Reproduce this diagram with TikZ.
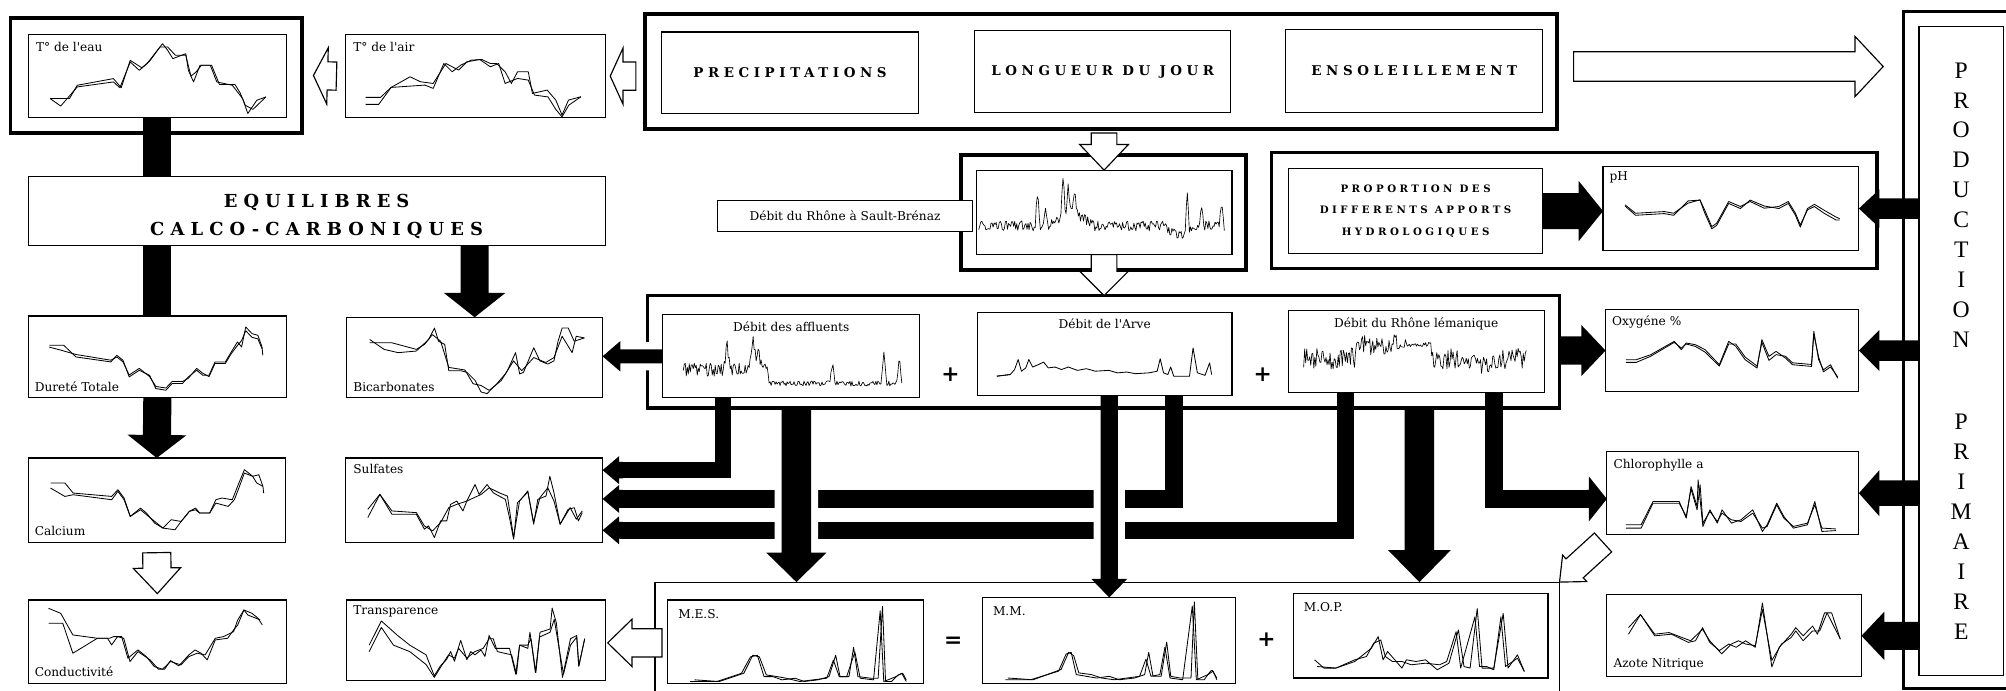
\documentclass[tikz,border=0pt]{standalone}
\usepackage{fontspec}
\usetikzlibrary{calc}
\newfontfamily\labfont{DejaVu Serif}
\newfontfamily\headfont[LetterSpace=34]{DejaVu Serif}
\newfontfamily\prodfont{Liberation Serif}
\pgfdeclarelayer{bg}\pgfdeclarelayer{lA}\pgfdeclarelayer{lB}\pgfdeclarelayer{lC}\pgfdeclarelayer{lD}
\pgfsetlayers{bg,lA,lB,lC,lD,main}
\pgfmathdeclarefunction{tri}{3}{\begingroup\pgfmathparse{max(0,1-abs(#1-#2)/#3)}\pgfmathsmuggle\pgfmathresult\endgroup}
\tikzset{
 box/.style={draw,line width=0.9pt,inner sep=0pt,outer sep=0pt},
 grp/.style={draw,line width=2.7pt,inner sep=0pt,outer sep=0pt},
 tbox/.style={box,fill=white},
 cl/.style={line width=0.65pt,line join=round},
 lab/.style={font=\labfont\fontsize{9.5}{11}\selectfont,inner sep=0pt},
 hd/.style={font=\headfont\bfseries\fontsize{10.5}{12}\selectfont,inner sep=0pt},
 pr/.style={font=\prodfont\fontsize{18.5}{18.5}\selectfont,inner sep=0pt},
 sgn/.style={font=\labfont\bfseries\fontsize{17}{17}\selectfont,inner sep=0pt},
 hollow/.style={draw=black,fill=white,line width=0.9pt,line join=miter},
 blk/.style={fill=black},
 blkgap/.style={fill=black,preaction={draw=white,line width=11pt}},
 thickl/.style={draw=black,line width=#1,line cap=butt,line join=miter},
}
\newcommand\mkbox[6][box]{\node[#1,minimum width={(#5-#3)*1pt},minimum height={(#6-#4)*1pt}] (#2) at ({(#3+#5)/2},{(#4+#6)/2}) {};}
\newcommand\chartbox[7]{\mkbox{#1}{#2}{#3}{#4}{#5}
 \begin{scope}[shift={(#1.north west)},xscale={(#4-#2)/100},yscale={(#5-#3)/100}]
 \draw[cl] plot coordinates {#6};
 \draw[cl] plot coordinates {#7};
 \end{scope}}
\newcommand\barrow[6]{%
 \coordinate (ba-a) at #2;
 \coordinate (ba-b) at #3;
 \coordinate (ba-c) at ($(ba-b)!#6pt!(ba-a)$);
 \path[#1] ($(ba-a)!#4pt!90:(ba-b)$) -- ($(ba-c)!#4pt!90:(ba-b)$) -- ($(ba-c)!#5pt!90:(ba-b)$) -- (ba-b) -- ($(ba-c)!#5pt!-90:(ba-b)$) -- ($(ba-c)!#4pt!-90:(ba-b)$) -- ($(ba-a)!#4pt!-90:(ba-b)$) -- cycle;}
\newcommand\bbar[4]{% style, from, to, half width
 \coordinate (bb-a) at #2;
 \coordinate (bb-b) at #3;
 \path[#1] ($(bb-a)!#4pt!90:(bb-b)$) -- ($(bb-b)!#4pt!-90:(bb-a)$) -- ($(bb-b)!#4pt!90:(bb-a)$) -- ($(bb-a)!#4pt!-90:(bb-b)$) -- cycle;}
\begin{document}
\begin{tikzpicture}[x=1pt,y=-1pt]
\useasboundingbox (0,0) rectangle (1568,540);
\begin{pgfonlayer}{bg}\fill[white] (0,0) rectangle (1568,540);\end{pgfonlayer}
% ---------- group frames ----------
\begin{pgfonlayer}{lC}
\mkbox[grp]{teauo}{8}{14}{236}{104}
\mkbox[grp]{topg}{504}{11}{1217}{101}
\mkbox[grp]{sbg}{751}{121}{974}{211}
\mkbox[grp]{propg}{994}{119}{1467}{210}
\mkbox[grp]{afflg}{506}{231}{1219}{319}
\mkbox[box]{mesg}{512}{455}{1219}{560}
\mkbox[grp]{prodo}{1488}{9}{1576}{538}
\mkbox[box]{prodi}{1500}{21}{1566}{528}
\end{pgfonlayer}
% ---------- text boxes ----------
\mkbox{precip}{517}{25}{718}{89}
\mkbox{longj}{762}{24}{962}{88}
\mkbox{ensol}{1005}{23}{1206}{88}
\node[hd] (precip-t) at (precip) {PRECIPITATIONS};
\node[hd] (longj-t) at (longj) {LONGUEUR DU JOUR};
\node[hd] (ensol-t) at (ensol) {ENSOLEILLEMENT};
\mkbox{equil}{22}{138}{473}{192}
\node[hd,font=\headfont\bfseries\fontsize{14}{22}\selectfont,align=center] (equil-t) at ($(equil)+(0,4)$) {EQUILIBRES\\CALCO-CARBONIQUES};
\mkbox{propt}{1007}{132}{1206}{198}
\node[hd,font=\headfont\bfseries\fontsize{8}{17}\selectfont,align=center] (propt-t) at (propt) {PROPORTION DES\\DIFFERENTS APPORTS\\HYDROLOGIQUES};
\mkbox[tbox]{sblab}{561}{157}{760}{181}
\node[lab] (sblab-t) at (sblab) {Débit du Rhône à Sault-Brénaz};
\foreach \l [count=\i] in {P,R,O,D,U,C,T,I,O,N} \node[pr] (pa\i) at (1533,{55+23.4*(\i-1)}) {\l};
\foreach \l [count=\i] in {P,R,I,M,A,I,R,E} \node[pr] (pb\i) at (1533,{330+23.4*(\i-1)}) {\l};
% ---------- charts ----------
\chartbox{teau}{22}{27}{224}{92}{(8.5,77) (12.6,86) (19,63) (33,57) (35.5,64) (39.5,33) (43,43) (46,35) (52,11) (54,19) (56,29) (61,23) (62,43) (64,57) (66.5,37) (70.5,37) (73,57) (79,61) (83,77) (85,95) (88.5,79) (92,75)}{(8.5,77) (16,77) (19,61) (33,53) (36,64) (39.5,31) (44,40) (47,32) (51,15) (54,15) (57,25) (61,25) (63,50) (65,45) (67,37) (71,37) (74,60) (80,60) (82,70) (84,85) (87,90) (92,75)}
\node[lab,anchor=north west] (teau-l) at ($(teau.north west)+(6,6)$) {T° de l'eau};
\chartbox{tair}{270}{27}{473}{92}{(7.8,75.6) (13.5,75.6) (17.6,63.6) (30.6,60.8) (33.8,64.8) (37.9,34.8) (41.1,44.8) (44.4,36.8) (48.5,30.8) (52.5,30) (55.8,34.8) (58.2,34.8) (61.5,44.8) (63.9,58.8) (66.3,44.8) (70.4,44.8) (72,70.8) (77.7,66.8) (81,78.8) (83.4,96.8) (85.9,78.8) (88.3,76.8) (90.7,74.8)}{(7.8,84) (12.8,84) (17.6,63.6) (24.9,50.8) (28.9,56.8) (33.8,58.8) (38.7,34.8) (43.6,42.8) (46.8,32.8) (51.7,30) (55.8,38.8) (59,34.8) (61.5,58.8) (66.3,52.8) (70.4,54.8) (72.8,72.8) (78,75) (81,90) (83.4,99) (86,85) (90.7,74.8)}
\node[lab,anchor=north west] (tair-l) at ($(tair.north west)+(6,6)$) {T° de l'air};
\chartbox{dur}{22}{247}{224}{311}{(8.2,35.8) (13.8,35.8) (18.5,50) (32,56.1) (34.3,48) (36.7,54) (39.1,74.4) (43,66.3) (47,72.4) (49.4,88.6) (53.3,90.7) (55.7,82.5) (59.7,82.5) (62,74.4) (65.2,66.3) (67.6,72.4) (70,72.4) (72.3,56.1) (76.3,56.1) (78.6,43.9) (81,31.7) (82.6,37.8) (84.2,13.4) (86.6,21.5) (88.9,23.6) (90.5,37.8) (90.8,48)}{(8.2,38) (13,42) (18.5,47) (32,54) (34.3,50) (36.7,56) (39.1,72) (43,64) (47,74) (49.4,86) (53.3,88) (55.7,80) (59.7,80) (62,76) (65.2,64) (67.6,70) (70,74) (72.3,58) (76.3,58) (78.6,46) (81,36) (82.6,30) (84.2,18) (86.6,26) (88.9,28) (90.5,40)}
\node[lab,anchor=south west] (dur-l) at ($(dur.south west)+(5,-5)$) {Dureté Totale};
\chartbox{bicarb}{271}{248}{471}{311}{(9,27.6) (14.6,39.8) (20.1,43.9) (27.2,41.9) (32,27.6) (34.3,13.4) (35.9,29.7) (38.3,33.7) (39.9,66.3) (44.6,66.3) (47,68.3) (50.2,78.5) (52.5,92.7) (54.9,94.7) (57.3,86.6) (60.4,78.5) (62.8,66.3) (66,43.9) (67.6,70.3) (69.1,68.3) (71.5,50) (73.1,37.8) (75.5,54.1) (78.6,58.1) (81,54.1) (82.6,29.7) (84.2,13.4) (86.6,13.4) (88.9,29.7) (92.9,25.6)}{(9,31.7) (17.7,31.7) (27.2,39.8) (30.4,33.7) (33.5,21.5) (36.7,29.7) (39.9,62.2) (46.2,65.4) (49.4,82.5) (52.5,84.6) (55.7,90.7) (58.1,84.6) (62,70.3) (65.2,54.1) (68.4,66.3) (73.1,50) (77.8,56.1) (81,50) (84.2,23.6) (88.1,43.9) (89.7,23.6) (92.9,25.6)}
\node[lab,anchor=south west] (bicarb-l) at ($(bicarb.south west)+(5,-5)$) {Bicarbonates};
\chartbox{calc}{22}{358}{223}{424}{(8.7,29.6) (14.3,29.6) (17.5,41.5) (32.5,45.5) (34.9,37.5) (37.3,47.4) (39.7,69.2) (43.7,59.3) (46,65.2) (49.2,77.1) (52.4,83) (55.6,73.1) (59.5,75.1) (62.7,63.2) (65.1,59.3) (66.7,65.2) (70.6,65.2) (73,49.4) (75.4,47.4) (79.4,49.4) (81.7,31.6) (84.1,13.8) (87.3,21.7) (89.7,19.8) (91.3,33.6) (91.6,41.5)}{(8.7,35.6) (14.3,45.5) (17.5,43.5) (32.5,49.4) (34.9,39.5) (37.3,49.4) (39.7,69.2) (43.7,61.3) (47.6,71.1) (52.4,83) (57.1,85) (59.5,75.1) (62.7,63.2) (65.1,61.3) (66.7,65.2) (70.6,65.2) (73,53.4) (77.8,57.3) (80.2,49.4) (81.7,37.5) (84.1,17.8) (87.3,21.7) (88.9,29.6) (91.3,33.6)}
\node[lab,anchor=south west] (calc-l) at ($(calc.south west)+(5,-5)$) {Calcium};
\chartbox{sulf}{270}{358}{471}{424}{(8.7,60.8) (13.4,43.1) (18.1,66.7) (27.6,66.7) (30.7,84.3) (32.3,80.4) (34.6,94.1) (37,74.5) (39.4,74.5) (40.9,54.9) (43.3,51) (45.7,62.7) (47.2,51) (50.4,31.4) (52,43.1) (55.1,31.4) (57.5,41.2) (59.8,45.1) (62.2,49) (63.8,70.6) (65.4,96.1) (66.9,52.9) (70.1,43.1) (70.9,39.2) (73.2,78.4) (74.8,49) (78,45.1) (79.5,21.6) (81.1,41.2) (83.5,78.4) (86.6,60.8) (89,58.8) (90.6,74.5) (92.1,64.7)}{(8.7,70.6) (13.4,43.1) (18.1,62.7) (27.6,64.7) (30.7,80.4) (33.9,86.3) (37,76.5) (40.2,58.8) (43.3,54.9) (47.2,51) (52.8,43.1) (55.9,35.3) (59.8,41.2) (63,45.1) (65.4,94.1) (67.7,51) (70.9,39.2) (73.2,76.5) (75.6,47.1) (78.7,35.3) (81.1,51) (83.5,78.4) (87.4,58.8) (89.8,72.5) (92.1,62.7)}
\node[lab,anchor=north west] (sulf-l) at ($(sulf.north west)+(6,5)$) {Sulfates};
\chartbox{cond}{22}{469}{224}{534}{(7.9,10) (12.6,16) (17.3,42) (26.8,46) (31.5,46) (33.1,44) (36.2,44) (38.6,70) (42.5,60) (45.7,68) (48.8,80) (52,83.2) (55.1,74) (59.1,78) (62.2,68) (65.4,64) (68.5,66) (72.4,46) (75.6,44) (79.5,38) (81.1,24) (83.5,12) (86.6,16) (89,22) (90.6,30)}{(7.9,28) (13.4,28) (17.3,64) (26.8,46) (30.7,46) (32.3,54) (34.6,44) (37,46) (39.4,74) (42.5,62) (47.2,72) (50.4,83.2) (52.8,83.2) (55.1,72.8) (58.3,79.2) (62.2,66) (64.6,60) (66.9,64) (69.3,72) (72.4,48) (77.2,46) (79.5,36) (81.1,30) (83.5,12) (85,18) (89.8,24)}
\node[lab,anchor=south west] (cond-l) at ($(cond.south west)+(5,-5)$) {Conductivité};
\chartbox{transp}{271}{469}{473}{532}{(8.7,56) (13.4,26) (19.7,44) (24.4,56) (30.7,68) (33.9,94) (36.2,82) (38.6,74) (40.2,64) (41.7,76) (44.1,50) (46.5,74) (48,64) (49.6,68) (52,62) (53.5,70) (55.1,44) (57.5,60) (63,60) (65.4,92) (66.9,56) (70.1,60) (70.9,40) (73.2,90) (74.8,40) (78.7,36) (79.5,10) (81.1,28) (83.5,96) (86.6,48) (89,44) (89.8,82) (92.1,48)}{(8.7,64) (13.4,34) (18.1,56) (24.4,64) (30.7,80) (33.9,96) (37,80) (39.4,68) (41.7,72) (43.3,60) (46.5,72) (49.6,64) (52.8,60) (55.1,48) (56.7,48) (58.3,64) (63.8,68) (65.7,92) (66.9,56) (70.1,56) (71.3,48) (73,90) (74.6,46) (78.7,40) (80.3,24) (82.4,64) (83.9,92) (86.6,56) (89,46) (89.8,82) (92.1,48)}
\node[lab,anchor=north west] (transp-l) at ($(transp.north west)+(5,4)$) {Transparence};
\chartbox{ph}{1253}{130}{1453}{196}{(8.6,45.6) (12.7,55.6) (23.9,53.6) (27.6,55.6) (33.2,43.7) (37.9,39.7) (39.7,51.6) (42.5,71.4) (44.4,67.5) (49.1,41.7) (53.7,47.6) (57.5,41.7) (63,49.6) (68.7,47.6) (72.4,41.7) (75.2,55.6) (77.1,69.4) (79.9,51.6) (82.6,47.6) (86.4,55.6) (91,63.5) (92.5,63.5)}{(8.6,47) (12.7,58) (23.9,56) (27.6,58) (33.2,41) (37.9,40) (39.7,55) (42.5,74) (44.4,70) (49.1,44) (53.7,50) (57.5,40) (63,47) (68.7,50) (72.4,44) (75.2,58) (77.1,72) (79.9,50) (82.6,45) (86.4,52) (91,60) (92.5,62)}
\node[lab,anchor=north west] (ph-l) at ($(ph.north west)+(5,4)$) {pH};
\chartbox{oxy}{1255}{242}{1453}{306}{(8,61.2) (12.1,61.2) (17.8,55.1) (27.1,38.8) (29.9,49) (31.8,40.8) (35.5,42.9) (39.3,49) (44.9,67.3) (48.6,38.8) (51.4,44.9) (55.1,61.2) (59.8,71.4) (61.7,36.7) (64.5,57.1) (67.3,51) (71,59.2) (73.8,67.3) (81.3,69.4) (82.2,26.5) (84.1,61.2) (86,73.5) (88.8,67.3) (91.6,83.7)}{(8,64.5) (12.1,64.5) (17.8,57) (27.1,40) (29.9,47) (31.8,42) (35.5,45) (39.3,52) (44.9,69) (48.6,42) (51.4,42) (55.1,58) (59.8,69) (61.7,40) (64.5,62) (67.3,55) (71,57) (73.8,65) (81.3,67) (82.2,30) (84.1,58) (86,76) (88.8,70) (91.6,82)}
\node[lab,anchor=north west] (oxy-l) at ($(oxy.north west)+(5,5)$) {Oxygéne \%};
\chartbox{chloro}{1256}{353}{1453}{418}{(7.5,88) (13.6,88) (18.3,60) (28.7,60) (31.5,80) (33.4,42) (35.8,66) (36.2,34) (38.1,90) (40.9,70) (43.8,86) (45.7,70) (49.4,86) (53.2,82) (57.9,70) (61.7,96) (63.6,88) (67.4,62) (70.2,78) (74,92) (79.6,88) (82.5,60) (85.3,96) (90.9,95)}{(7.5,92) (13.6,92) (18.3,62) (28.7,62) (31.5,78) (33.4,45) (35.8,70) (37,40) (38.1,86) (40.9,72) (43.8,84) (45.7,74) (49.4,82) (53.2,84) (57.9,74) (61.7,92) (63.6,90) (67.4,64) (70.2,80) (74,90) (79.6,86) (82.5,64) (85.3,92) (90.9,93)}
\node[lab,anchor=north west] (chloro-l) at ($(chloro.north west)+(5,6)$) {Chlorophylle a};
\chartbox{azote}{1256}{465}{1455}{529}{(8.5,48) (13.2,24) (18.8,50) (25.4,48) (32,58) (34.8,56) (37.6,40) (40.4,58) (44.2,68) (47.9,60) (50.8,64) (54.5,56) (58.3,64) (61.1,10) (64.8,88) (67.7,64) (72.4,48) (74.2,40) (77.1,50) (80.8,38) (82.7,48) (85.5,22) (88.3,22) (91.7,54)}{(8.5,40) (13.2,24) (18.8,48) (24.4,46) (32.9,56) (37.6,42) (40.4,56) (45.1,72) (48.9,60) (51.7,56) (54.5,60) (58.3,62) (61.1,18) (64.8,80) (68.6,60) (72.4,52) (74.2,44) (77.1,56) (80.8,44) (83.6,44) (86.5,22) (91.7,54)}
\node[lab,anchor=south west] (azote-l) at ($(azote.south west)+(5,-5)$) {Azote Nitrique};
\chartbox{mes}{522}{469}{722}{534}{(8.7,98) (19.2,98) (28.8,88.1) (32.3,68.4) (35,66.4) (37.6,92.1) (41.1,92.1) (44.6,96) (49.8,94.1) (53.3,98) (58.6,96) (63,92.1) (65.6,66.4) (67.3,92.1) (70.8,92.1) (72.6,56.9) (74.3,92.1) (79.5,94.1) (82.2,94.1) (83.9,7.5) (85.1,98) (87.4,98) (90,90.1) (91.8,88.1) (93.2,96)}{(10.5,96) (20.1,98) (29.7,88.1) (33.2,66.4) (35.8,68.4) (38.5,90.1) (42.8,92.1) (46.3,94.1) (51.6,98) (56.8,96) (62.1,94.1) (64.7,72.3) (67,92.1) (69.9,92.1) (73.1,62.5) (75.2,94.1) (80.4,96) (83,13) (84.4,98) (89.2,92.1) (91.4,88.1) (93.2,98)}
\node[lab,anchor=north west] (mes-l) at ($(mes.north west)+(8,7)$) {M.E.S.};
\chartbox{mm}{768}{467}{966}{534}{(9,96) (19,96) (30,86) (33,66) (35,64) (37,90) (41,92) (45,94) (50,92) (54,96) (60,94) (64,90) (65.6,64) (67.3,92) (70.5,92) (72.7,52) (74.3,92) (78,94) (82.3,94) (83.6,5) (85,96) (87.5,96) (90,86) (90.7,85) (92.5,94)}{(10,94) (20,96) (31,84) (34,64) (36,68) (38,88) (43,90) (47,94) (52,96) (57,94) (62,92) (64.5,72) (66.5,92) (70,90) (72,58) (74,94) (79,96) (82.8,10) (84.4,96) (89,90) (91,86) (92.5,96)}
\node[lab,anchor=north west] (mm-l) at ($(mm.north west)+(8,7)$) {M.M.};
\chartbox{mop}{1011}{464}{1210}{530}{(8.3,78.4) (12,88.2) (16.7,88.2) (24.1,80.4) (30.6,64.7) (33.3,51) (35.2,78.4) (37,68.6) (39.8,78.4) (42.6,88.2) (44.4,78.4) (48.1,80.4) (51.9,78.4) (56.5,90.2) (61.1,82.4) (64.8,43.1) (67,86.3) (69.4,88.2) (72.2,17.6) (74.1,88.2) (78.7,88.2) (82.4,23.5) (84.3,88.2) (88,72.5) (90.7,92.2)}{(9.3,86.3) (16.7,88.2) (24.1,78.4) (28.7,74.5) (31.5,58.8) (34.3,54.9) (36.1,74.5) (38.9,80.4) (42.6,80.4) (46.3,84.3) (51.9,82.4) (57.4,84.3) (60.2,80.4) (63.9,45.1) (65.7,88.2) (71.3,27.5) (73.1,86.3) (75.9,86.3) (78.7,90.2) (81.5,27.5) (83.3,86.3) (88,76.5) (90.7,92.2)}
\node[lab,anchor=north west] (mop-l) at ($(mop.north west)+(8,7)$) {M.O.P.};
\chartbox{arve}{764}{244}{963}{309}{(7.6,77) (12.9,75) (14.6,69) (16,57) (17.3,71) (19,67) (20.2,57) (21.7,66) (24,63) (26,60) (27.8,67) (30.5,66) (33,69) (35.7,66) (39.3,70) (42.8,68) (46.3,71) (51.6,70) (55,73) (58.6,72) (62.1,74) (67.4,73) (70.6,71) (71.8,56) (73.1,73) (74.8,75) (75.9,66) (77.1,77) (83.3,77) (84.7,43) (86.4,73) (89.4,76) (91.2,61) (92,75)}{(7.6,77) (12.9,75)}
\node[lab,anchor=north] (arve-l) at ($(arve.north)+(0,5)$) {Débit de l'Arve};
% hydrographs
\mkbox{sb}{763}{133}{963}{199}
\begin{scope}[shift={(sb.north west)},xscale=2,yscale=0.66]
\pgfmathsetseed{7}
\draw[cl,line width=0.5pt] plot[domain=1:97,samples=240] (\x,{72-12*rnd-38*tri(\x,24,1)-28*tri(\x,27,0.8)-45*tri(\x,34,1)-30*tri(\x,36,1)-22*tri(\x,38.5,1.2)-18*tri(\x,37,9)+12*tri(\x,79,6)-50*tri(\x,82.5,0.8)-22*tri(\x,88,1)-28*tri(\x,96,1)});
\end{scope}
\mkbox{affl}{518}{246}{719}{311}
\begin{scope}[shift={(affl.north west)},xscale=2.01,yscale=0.65]
\pgfmathsetseed{12}
\draw[cl,line width=0.5pt] plot[domain=8:93,samples=220] (\x,{74+12*(\x>41)-16*rnd*(1-0.6*(\x>41))-30*tri(\x,25,1.2)-40*tri(\x,35,1.2)-28*tri(\x,37,1.5)-25*tri(\x,66,1)-40*tri(\x,86,1)-35*tri(\x,92,1)});
\end{scope}
\node[lab,anchor=north] (affl-l) at ($(affl.north)+(0,5)$) {Débit des affluents};
\mkbox{lem}{1007}{243}{1207}{307}
\begin{scope}[shift={(lem.north west)},xscale=2,yscale=0.64]
\pgfmathsetseed{5}
\draw[cl,line width=0.5pt] plot[domain=6:93,samples=220] (\x,{58-17*(\x>26)*(\x<56)+8*(\x>71)*(\x<82)+(1-0.8*(\x>46)*(\x<56))*26*(rnd-0.5)+18*tri(\x,44,1)});
\end{scope}
\node[lab,anchor=north] (lem-l) at ($(lem.north)+(0,5)$) {Débit du Rhône lémanique};
% signs
\node[sgn] (plus1) at (743,293) {+};
\node[sgn] (plus2) at (987,293) {+};
\node[sgn] (eq1) at (745,502) {=};
\node[sgn] (plus3) at (990,500) {+};
% ---------- L-shaped black lines ----------
\begin{pgfonlayer}{lA}
\draw[thickl=13pt] ($(affl.south)+(-53.5,0)$) |- ($(sulf.east)+(14,-23.5)$);
\barrow{blk}{($(sulf.east)+(16,-23.5)$)}{($(sulf.east)+(0,-23.5)$)}{6.5}{11}{13}
\draw[thickl=14pt] ($(arve.south)+(54,0)$) |- ($(sulf.east)+(14,-1)$);
\barrow{blk}{($(sulf.east)+(16,-1)$)}{($(sulf.east)+(0,-1)$)}{7}{11}{13}
\draw[thickl=13pt] ($(lem.south)+(-55.5,0)$) |- ($(sulf.east)+(14,23.5)$);
\barrow{blk}{($(sulf.east)+(16,23.5)$)}{($(sulf.east)+(0,23.5)$)}{6.5}{11}{13}
\draw[thickl=14pt] ($(lem.south)+(60.5,0)$) |- ($(chloro.west)+(-13,4.5)$);
\barrow{blk}{($(chloro.west)+(-16,4.5)$)}{($(chloro.west)+(0,4.5)$)}{7}{17.5}{14}
\end{pgfonlayer}
% ---------- vertical bars crossing ----------
\begin{pgfonlayer}{lB}
\barrow{blkgap}{($(affl.south |- afflg.south)+(4,0)$)}{($(affl.south |- mesg.north)+(4,0)$)}{11.5}{23.5}{23}
\barrow{blkgap}{(mm.north |- arve.south)}{(mm.north)}{6.7}{14}{14.5}
\end{pgfonlayer}
% ---------- other arrows ----------
\begin{pgfonlayer}{lD}
\barrow{hollow}{($(tair.west)+(-7,0)$)}{($(teauo.east)+(9,0)$)}{11}{22}{11}
\barrow{hollow}{($(topg.west |- tair.east)+(-7,0)$)}{($(tair.east)+(4,0)$)}{11}{22}{10}
\barrow{hollow}{($(topg.east)+(13,-4)$)}{($(topg.east -| prodo.west)+(-16,-4)$)}{11.5}{23.5}{22}
\barrow{hollow}{($(sb.north |- topg.south)+(0,3)$)}{(sb.north)}{10}{19}{20}
\barrow{hollow}{(sb.south)}{(sb.south |- afflg.north)}{10}{19}{19}
\barrow{hollow}{($(chloro.south west)+(-3,6)$)}{(mesg.north east)}{10}{14}{16}
\barrow{hollow}{($(mes.west)+(-4.5,1)$)}{($(transp.east |- mes.west)+(2,1)$)}{11}{18.5}{19}
\barrow{hollow}{($(calc.south)+(0,8)$)}{($(cond.north)+(0,-5)$)}{11}{18.5}{20}
\bbar{blk}{(teau.south)}{(teau.south |- equil.north)}{11}
\bbar{blk}{(dur.north |- equil.south)}{(dur.north)}{11}
\barrow{blk}{(dur.south)}{(calc.north)}{11}{23}{18}
\barrow{blk}{(bicarb.north |- equil.south)}{(bicarb.north)}{11}{24}{19}
\barrow{blkgap}{(affl.west)}{(affl.west -| bicarb.east)}{5.5}{12}{14}
\barrow{blk}{(propt.east)}{(propt.east -| ph.west)}{14}{23.5}{19}
\barrow{blk}{(afflg.east |- oxy.west)}{(oxy.west)}{11}{20}{19}
\barrow{blk}{(prodi.west |- ph.east)}{(ph.east)}{8}{15}{16}
\barrow{blk}{(prodi.west |- oxy.east)}{(oxy.east)}{8}{16}{16}
\barrow{blk}{(prodi.west |- chloro.east)}{(chloro.east)}{10}{18}{16}
\barrow{blk}{(prodi.west |- azote.east)}{(azote.east)}{11}{19}{18}
\barrow{blk}{($(lem.south |- afflg.south)+(2.5,0)$)}{($(lem.south |- mesg.north)+(2.5,0)$)}{11.5}{24.5}{25}
\end{pgfonlayer}
\end{tikzpicture}
\end{document}
